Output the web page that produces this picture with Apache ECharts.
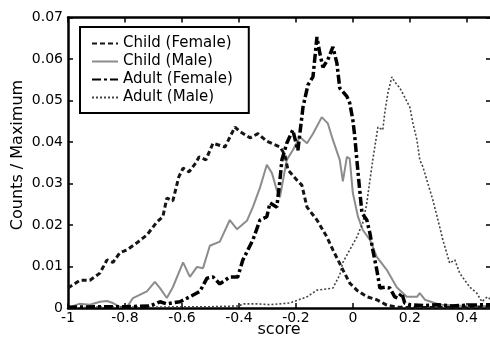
<!DOCTYPE html>
<html>
<head>
<meta charset="utf-8">
<script src="https://cdn.jsdelivr.net/npm/echarts@6/dist/echarts.min.js"></script>
<style>
html,body{margin:0;padding:0;background:#fff;}
#chart{width:490px;height:338px;}
</style>
</head>
<body>
<div id="chart"></div>
<script>
// ---- data ----
var seriesNames = ['Child (Female)', 'Child (Male)', 'Adult (Female)', 'Adult (Male)'];
var xTicks = [-1, -0.8, -0.6, -0.4, -0.2, 0, 0.2, 0.4];
var yTicks = [0, 0.01, 0.02, 0.03, 0.04, 0.05, 0.06, 0.07];
var xTitle = 'score';
var yTitle = 'Counts / Maximum';

var childFemaleX = [-1.000,-0.958,-0.923,-0.888,-0.863,-0.842,-0.818,-0.793,-0.758,-0.723,-0.688,-0.667,-0.653,-0.632,-0.611,-0.596,-0.575,-0.551,-0.540,-0.516,-0.491,-0.449,-0.414,-0.396,-0.361,-0.333,-0.302,-0.256,-0.239,-0.228,-0.196,-0.179,-0.161,-0.126,-0.091,-0.070,-0.035,-0.011,0.014,0.049,0.084,0.119,0.154,0.200,0.300,0.485];
var childFemaleY = [0.0048,0.0067,0.0067,0.0084,0.0116,0.0110,0.0133,0.0140,0.0157,0.0176,0.0207,0.0220,0.0265,0.0258,0.0316,0.0337,0.0328,0.0350,0.0364,0.0357,0.0397,0.0388,0.0436,0.0425,0.0410,0.0420,0.0402,0.0388,0.0370,0.0333,0.0308,0.0296,0.0243,0.0212,0.0171,0.0140,0.0092,0.0060,0.0043,0.0027,0.0020,0.0007,0.0002,0.0001,0.0001,0.0001];

var childMaleX = [-1.000,-0.961,-0.923,-0.888,-0.863,-0.842,-0.818,-0.793,-0.772,-0.723,-0.695,-0.677,-0.653,-0.632,-0.596,-0.572,-0.547,-0.526,-0.502,-0.467,-0.432,-0.407,-0.372,-0.351,-0.326,-0.302,-0.284,-0.267,-0.256,-0.232,-0.211,-0.186,-0.161,-0.140,-0.109,-0.088,-0.070,-0.046,-0.035,-0.021,-0.011,0.000,0.018,0.035,0.060,0.084,0.119,0.154,0.189,0.225,0.235,0.253,0.305,0.400,0.485];
var childMaleY = [0.0000,0.0010,0.0008,0.0015,0.0017,0.0012,0.0003,0.0002,0.0024,0.0040,0.0063,0.0048,0.0024,0.0050,0.0110,0.0075,0.0099,0.0096,0.0150,0.0160,0.0212,0.0190,0.0210,0.0243,0.0290,0.0345,0.0325,0.0284,0.0267,0.0357,0.0380,0.0412,0.0397,0.0420,0.0460,0.0445,0.0405,0.0357,0.0305,0.0364,0.0360,0.0277,0.0220,0.0188,0.0164,0.0123,0.0092,0.0050,0.0027,0.0027,0.0036,0.0020,0.0008,0.0005,0.0005];

var adultFemaleX = [-1.000,-0.900,-0.800,-0.712,-0.677,-0.653,-0.607,-0.572,-0.537,-0.512,-0.491,-0.467,-0.432,-0.404,-0.386,-0.351,-0.326,-0.302,-0.291,-0.267,-0.256,-0.249,-0.232,-0.211,-0.193,-0.175,-0.158,-0.140,-0.126,-0.116,-0.105,-0.088,-0.070,-0.056,-0.046,-0.021,-0.011,0.000,0.007,0.014,0.025,0.032,0.049,0.060,0.070,0.084,0.095,0.112,0.130,0.147,0.158,0.172,0.182,0.200,0.250,0.300,0.350,0.400,0.485];
var adultFemaleY = [0.0002,0.0003,0.0003,0.0005,0.0015,0.0010,0.0015,0.0027,0.0040,0.0072,0.0075,0.0058,0.0075,0.0075,0.0116,0.0164,0.0212,0.0220,0.0253,0.0243,0.0308,0.0357,0.0397,0.0429,0.0380,0.0484,0.0537,0.0557,0.0653,0.0614,0.0580,0.0598,0.0629,0.0590,0.0530,0.0510,0.0494,0.0453,0.0412,0.0357,0.0277,0.0229,0.0212,0.0180,0.0140,0.0092,0.0048,0.0050,0.0048,0.0027,0.0024,0.0036,0.0012,0.0008,0.0006,0.0008,0.0005,0.0007,0.0008];

var adultMaleX = [-1.000,-0.900,-0.800,-0.700,-0.600,-0.500,-0.400,-0.386,-0.337,-0.291,-0.221,-0.161,-0.126,-0.070,-0.046,-0.035,-0.011,0.014,0.035,0.049,0.060,0.070,0.088,0.105,0.112,0.123,0.137,0.147,0.165,0.182,0.200,0.211,0.225,0.235,0.246,0.260,0.281,0.305,0.316,0.340,0.358,0.375,0.411,0.435,0.453,0.472,0.485];
var adultMaleY = [0.0000,0.0002,0.0002,0.0002,0.0003,0.0003,0.0005,0.0010,0.0010,0.0008,0.0012,0.0027,0.0043,0.0048,0.0080,0.0110,0.0140,0.0171,0.0205,0.0253,0.0308,0.0357,0.0436,0.0429,0.0470,0.0518,0.0557,0.0545,0.0530,0.0508,0.0484,0.0445,0.0405,0.0357,0.0340,0.0308,0.0260,0.0195,0.0164,0.0108,0.0116,0.0084,0.0050,0.0036,0.0015,0.0027,0.0020];

function zip(xs, ys) { return xs.map(function (x, i) { return [x, ys[i]]; }); }

var xMin = xTicks[0], xMax = 0.485, xStep = 0.2;
var yMin = yTicks[0], yMax = yTicks[yTicks.length - 1], yStep = 0.01;

function fmtX(v) {
  for (var i = 0; i < xTicks.length; i++) {
    if (Math.abs(v - xTicks[i]) < 1e-6) return String(xTicks[i]);
  }
  return '';
}
function fmtY(v) {
  for (var i = 0; i < yTicks.length; i++) {
    if (Math.abs(v - yTicks[i]) < 1e-9) return yTicks[i] === 0 ? '0' : yTicks[i].toFixed(2);
  }
  return '';
}

var FONT = 'DejaVu Sans';
var axisLineStyle = { color: '#000', width: 2.5 };
var tickStyle = { show: true, inside: true, length: 5, lineStyle: { color: '#000', width: 1.5 } };

var chart = echarts.init(document.getElementById('chart'), null, { renderer: 'canvas' });
chart.setOption({
  animation: false,
  backgroundColor: '#fff',
  grid: { left: 68, right: -1, top: 17.5, bottom: 30, outerBoundsMode: 'none', containLabel: false },
  xAxis: [{
    type: 'value', min: xMin, max: xMax, interval: xStep, position: 'bottom',
    axisLine: { show: true, onZero: false, lineStyle: axisLineStyle },
    axisTick: tickStyle,
    axisLabel: { formatter: fmtX, color: '#000', fontFamily: FONT, fontSize: 14, margin: 3, showMaxLabel: false },
    splitLine: { show: false }
  }, {
    type: 'value', min: xMin, max: xMax, interval: xStep, position: 'top',
    axisLine: { show: true, onZero: false, lineStyle: axisLineStyle },
    axisTick: tickStyle,
    axisLabel: { show: false },
    splitLine: { show: false }
  }],
  yAxis: [{
    type: 'value', min: yMin, max: yMax, interval: yStep, position: 'left',
    axisLine: { show: true, onZero: false, lineStyle: axisLineStyle },
    axisTick: tickStyle,
    axisLabel: { formatter: fmtY, color: '#000', fontFamily: FONT, fontSize: 14, margin: 5 },
    splitLine: { show: false }
  }, {
    type: 'value', min: yMin, max: yMax, interval: yStep, position: 'right',
    axisLine: { show: true, onZero: false, lineStyle: axisLineStyle },
    axisTick: tickStyle,
    axisLabel: { show: false },
    splitLine: { show: false }
  }],
  graphic: [{
    type: 'text', x: 18, y: 155, rotation: Math.PI / 2,
    style: { text: yTitle, fill: '#000', font: '16px "DejaVu Sans"', textAlign: 'center', textVerticalAlign: 'middle' }
  }, {
    type: 'text', x: 279, y: 330,
    style: { text: xTitle, fill: '#000', font: '16px "DejaVu Sans"', textAlign: 'center', textVerticalAlign: 'middle' }
  }],
  legend: {
    orient: 'vertical', left: 80, top: 27,
    padding: [9, 16, 8, 11],
    itemWidth: 26, itemHeight: 12, itemGap: 3,
    itemStyle: { opacity: 0 },
    backgroundColor: '#fff', borderColor: '#000', borderWidth: 2,
    textStyle: { color: '#000', fontFamily: FONT, fontSize: 15 },
    data: seriesNames
  },
  series: [{
    name: seriesNames[0], type: 'line', symbol: 'none', data: zip(childFemaleX, childFemaleY),
    lineStyle: { color: '#151515', width: 3, type: [5, 3] }, itemStyle: { color: '#151515' }, z: 3
  }, {
    name: seriesNames[1], type: 'line', symbol: 'none', data: zip(childMaleX, childMaleY),
    lineStyle: { color: '#8c8c8c', width: 2, type: 'solid' }, itemStyle: { color: '#8c8c8c' }, z: 2
  }, {
    name: seriesNames[2], type: 'line', symbol: 'none', data: zip(adultFemaleX, adultFemaleY),
    lineStyle: { color: '#000', width: 3.5, type: [9, 3, 3, 3] }, itemStyle: { color: '#000' }, z: 4
  }, {
    name: seriesNames[3], type: 'line', symbol: 'none', data: zip(adultMaleX, adultMaleY),
    lineStyle: { color: '#444', width: 1.6, type: [2, 2] }, itemStyle: { color: '#444' }, z: 2
  }]
});
</script>
</body>
</html>
